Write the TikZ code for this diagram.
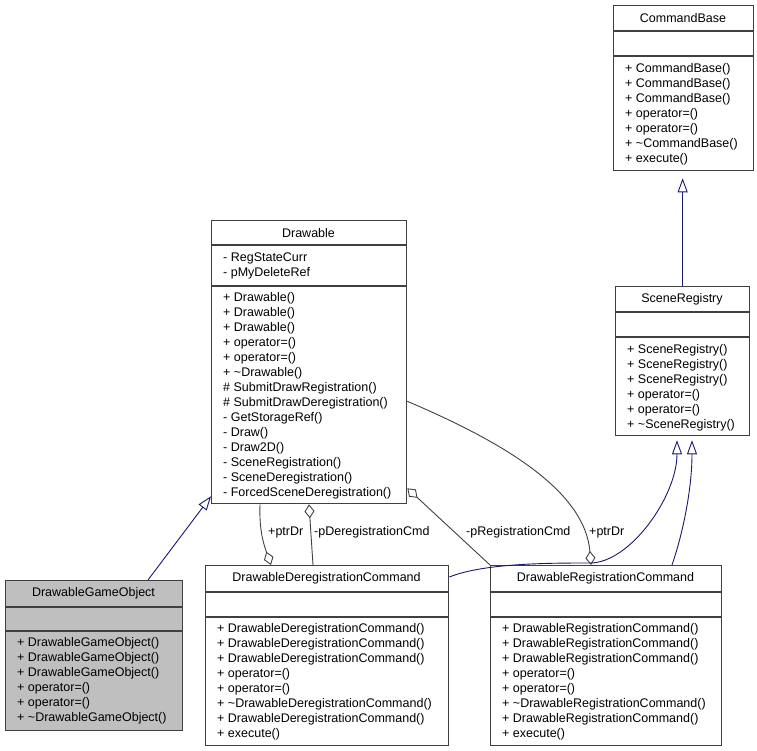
\documentclass[tikz,border=0pt]{standalone}
\usepackage{fontspec}
\setmainfont{Liberation Sans}
\usetikzlibrary{arrows.meta}
\definecolor{edgegray}{HTML}{404040}
\definecolor{inhblue}{HTML}{191970}
\definecolor{leafgray}{HTML}{BFBFBF}

\begin{document}
\begin{tikzpicture}[
  x=1pt, y=-1pt,
  font=\fontsize{12.5}{15}\selectfont,
  cls/.style={draw=edgegray, line width=1.3pt, fill=white, anchor=north west, inner sep=0pt},
  ttl/.style={inner sep=0pt},
  mbr/.style={align=left, anchor=north west, inner sep=0pt},
  sep/.style={draw=edgegray, line width=1.3pt},
  inh/.style={-{Triangle[open, length=14pt, width=10pt]}, draw=inhblue, line width=0.9pt},
  agg/.style={draw=edgegray, line width=0.9pt},
  lbl/.style={anchor=west, inner sep=0pt}
]
\useasboundingbox (0,0) rectangle (757,751);

% classes
\node[cls, minimum width=140, minimum height=165] (cb) at (613,5) {};
\node[ttl] (cbt) at (683,18) {CommandBase};
\draw[sep] ([yshift=-26]cb.north west) -- ([yshift=-26]cb.north east);
\draw[sep] ([yshift=-51]cb.north west) -- ([yshift=-51]cb.north east);
\node[mbr] (cbm) at (625,63.4) {+ CommandBase()\\+ CommandBase()\\+ CommandBase()\\+ operator=()\\+ operator=()\\+ \textasciitilde CommandBase()\\+ execute()};

\node[cls, minimum width=134, minimum height=149] (sr) at (615,286) {};
\node[ttl] (srt) at (682,299) {SceneRegistry};
\draw[sep] ([yshift=-26]sr.north west) -- ([yshift=-26]sr.north east);
\draw[sep] ([yshift=-51]sr.north west) -- ([yshift=-51]sr.north east);
\node[mbr] (srm) at (627,344.4) {+ SceneRegistry()\\+ SceneRegistry()\\+ SceneRegistry()\\+ operator=()\\+ operator=()\\+ \textasciitilde SceneRegistry()};

\node[cls, minimum width=195, minimum height=283] (drw) at (211,220) {};
\node[ttl] (drwt) at (308.5,233) {Drawable};
\draw[sep] ([yshift=-25]drw.north west) -- ([yshift=-25]drw.north east);
\draw[sep] ([yshift=-66]drw.north west) -- ([yshift=-66]drw.north east);
\node[mbr] (drwa) at (223,252.4) {- RegStateCurr\\- pMyDeleteRef};
\node[mbr] (drwm) at (223,292.4) {+ Drawable()\\+ Drawable()\\+ Drawable()\\+ operator=()\\+ operator=()\\+ \textasciitilde Drawable()\\\# SubmitDrawRegistration()\\\# SubmitDrawDeregistration()\\- GetStorageRef()\\- Draw()\\- Draw2D()\\- SceneRegistration()\\- SceneDeregistration()\\- ForcedSceneDeregistration()};

\node[cls, fill=leafgray, minimum width=177, minimum height=150] (dgo) at (5,580) {};
\node[ttl] (dgot) at (93.5,593) {DrawableGameObject};
\draw[sep] ([yshift=-27]dgo.north west) -- ([yshift=-27]dgo.north east);
\draw[sep] ([yshift=-51]dgo.north west) -- ([yshift=-51]dgo.north east);
\node[mbr] (dgom) at (17,637.4) {+ DrawableGameObject()\\+ DrawableGameObject()\\+ DrawableGameObject()\\+ operator=()\\+ operator=()\\+ \textasciitilde DrawableGameObject()};

\node[cls, minimum width=243, minimum height=180] (ddc) at (205,565) {};
\node[ttl] (ddct) at (326.5,578) {DrawableDeregistrationCommand};
\draw[sep] ([yshift=-27]ddc.north west) -- ([yshift=-27]ddc.north east);
\draw[sep] ([yshift=-52]ddc.north west) -- ([yshift=-52]ddc.north east);
\node[mbr] (ddcm) at (217,623.4) {+ DrawableDeregistrationCommand()\\+ DrawableDeregistrationCommand()\\+ DrawableDeregistrationCommand()\\+ operator=()\\+ operator=()\\+ \textasciitilde DrawableDeregistrationCommand()\\+ DrawableDeregistrationCommand()\\+ execute()};

\node[cls, minimum width=231, minimum height=180] (drc) at (490,565) {};
\node[ttl] (drct) at (605.5,578) {DrawableRegistrationCommand};
\draw[sep] ([yshift=-27]drc.north west) -- ([yshift=-27]drc.north east);
\draw[sep] ([yshift=-52]drc.north west) -- ([yshift=-52]drc.north east);
\node[mbr] (drcm) at (502,623.4) {+ DrawableRegistrationCommand()\\+ DrawableRegistrationCommand()\\+ DrawableRegistrationCommand()\\+ operator=()\\+ operator=()\\+ \textasciitilde DrawableRegistrationCommand()\\+ DrawableRegistrationCommand()\\+ execute()};

% inheritance
\draw[inh] ([xshift=143]dgo.north west) -- ([yshift=8]drw.south west);
\draw[inh, shorten >=7pt] (sr.north) -- (sr.north |- cb.south);
\draw[inh, shorten >=4pt] ([yshift=-12]ddc.north east) .. controls +(35,-14) and +(-40,0) .. (590,563)
  .. controls +(40,0) and +(0,60) .. ([xshift=62]sr.south west);
\draw[inh, shorten >=4pt] ([xshift=182]drc.north west) .. controls +(12,-35) and +(0,50) .. ([xshift=77]sr.south west);

% members
\draw[agg, -{Diamond[open, length=14pt, width=10pt]}] ([xshift=49]drw.south west) .. controls +(-1,27) and +(-7,-20) .. ([xshift=66]ddc.north west);
\draw[agg, {Diamond[open, length=14pt, width=10pt]}-] ([xshift=98]drw.south west) -- ([xshift=108]ddc.north west);
\draw[agg, {Diamond[open, length=14pt, width=10pt]}-] ([yshift=16]drw.south east) -- (drc.north west);
\draw[agg, -{Diamond[open, length=14pt, width=10pt]}] ([yshift=103]drw.south east) .. controls +(94,40) and +(-6,-75) .. ([xshift=101]drc.north west);

\node[lbl] (lptra) at (268,532) {+ptrDr};
\node[lbl] (ldreg) at (314,532) {-pDeregistrationCmd};
\node[lbl] (lreg) at (466,532) {-pRegistrationCmd};
\node[lbl] (lptrb) at (589,532) {+ptrDr};
\end{tikzpicture}
\end{document}
